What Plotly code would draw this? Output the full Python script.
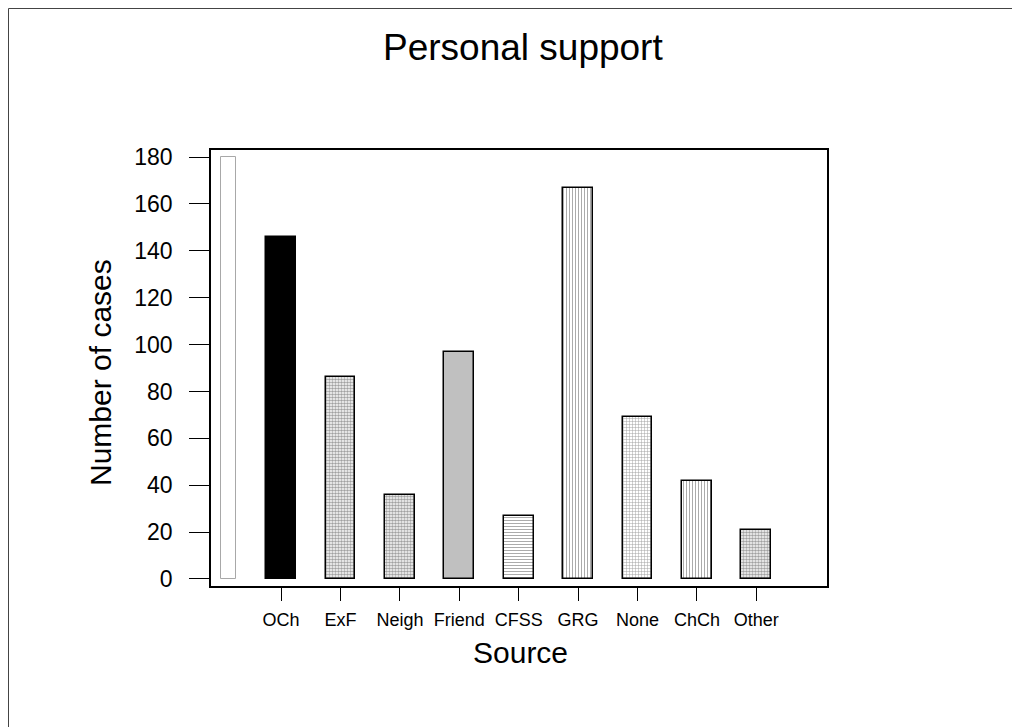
import plotly.graph_objects as go

categories = ["OCh", "ExF", "Neigh", "Friend", "CFSS", "GRG", "None", "ChCh", "Other"]
cases = [146, 86, 36, 97, 27, 167, 69, 42, 21]
y_ticks = [0, 20, 40, 60, 80, 100, 120, 140, 160, 180]
blank_bar_value = [180]

positions = list(range(1, len(categories) + 1))

FONT = "Liberation Sans, Arial, sans-serif"

fill_colors = ["black", "white", "white", "#c0c0c0", "white", "white", "white", "white", "white"]
pat_shapes = ["", ".", ".", "", "-", "|", "+", "|", "."]
pat_fg = ["black", "#8c8c8c", "#7c7c7c", "#c0c0c0", "#444444", "#777777", "#444444", "#dddddd", "#000000"]
pat_size = [5, 3, 3, 5, 3, 3, 3, 3, 3]
pat_solid = [0.3, 0.55, 0.6, 0.3, 0.3, 0.3, 0.3, 0.3, 0.6]

# page offset compensation (browser body margin)
OFF = 8
W, H = 1020 - OFF, 727 - OFF
L, R, T, B = 211 - OFF, 827 - OFF, 150 - OFF, 586 - OFF
pw, ph = R - L, B - T


def px_x(x):
    return ((x - OFF) - L) / pw


def px_y(y):
    return (B - (y - OFF)) / ph


fig = go.Figure()

# faint empty bar at far left
fig.add_trace(go.Bar(
    x=[0.12], y=blank_bar_value, width=0.25,
    marker=dict(color="white", line=dict(color="#a8a8a8", width=1)),
    showlegend=False, hoverinfo="skip",
))

fig.add_trace(go.Bar(
    x=positions, y=cases, width=0.5,
    marker=dict(
        color=fill_colors,
        line=dict(color="black", width=1.5),
        pattern=dict(shape=pat_shapes, fgcolor=pat_fg,
                     size=pat_size, solidity=pat_solid, fillmode="overlay"),
    ),
    showlegend=False,
))

fig.update_layout(
    width=W, height=H, autosize=False,
    margin=dict(l=L, r=W - R, t=T, b=H - B, pad=0),
    plot_bgcolor="white", paper_bgcolor="white",
    font=dict(family=FONT, color="black"),
    bargap=0,
    xaxis=dict(
        range=[-0.18, 10.19], tickmode="array", tickvals=positions, ticktext=categories,
        ticks="outside", ticklen=13, tickcolor="black", tickwidth=1,
        showline=True, linecolor="black", linewidth=1.5, mirror=True,
        showgrid=False, zeroline=False,
        tickfont=dict(size=18, family=FONT, color="black"),
        ticklabelstandoff=4,
    ),
    yaxis=dict(
        range=[-3, 183], tickmode="array", tickvals=y_ticks,
        ticks="outside", ticklen=20, tickcolor="black", tickwidth=1,
        showline=True, linecolor="black", linewidth=1.5, mirror=True,
        showgrid=False, zeroline=False,
        tickfont=dict(size=23, family=FONT, color="black"),
        ticklabelstandoff=12,
    ),
    annotations=[
        dict(text="Personal support", x=px_x(523), y=px_y(48), xref="paper", yref="paper",
             showarrow=False, font=dict(size=37, family=FONT, color="black"),
             xanchor="center", yanchor="middle"),
        dict(text="Number of cases", x=px_x(100), y=px_y(373), xref="paper", yref="paper",
             showarrow=False, textangle=-90, font=dict(size=30, family=FONT, color="black"),
             xanchor="center", yanchor="middle"),
        dict(text="Source", x=px_x(520), y=px_y(652), xref="paper", yref="paper",
             showarrow=False, font=dict(size=30, family=FONT, color="black"),
             xanchor="center", yanchor="middle"),
    ],
    shapes=[
        dict(type="line", xref="paper", yref="paper", x0=px_x(8.5), x1=px_x(1030),
             y0=px_y(8.5), y1=px_y(8.5), line=dict(color="#444444", width=1)),
        dict(type="line", xref="paper", yref="paper", x0=px_x(8.5), x1=px_x(8.5),
             y0=px_y(8.5), y1=px_y(740), line=dict(color="#444444", width=1)),
    ],
)

fig.write_html("out.html")
